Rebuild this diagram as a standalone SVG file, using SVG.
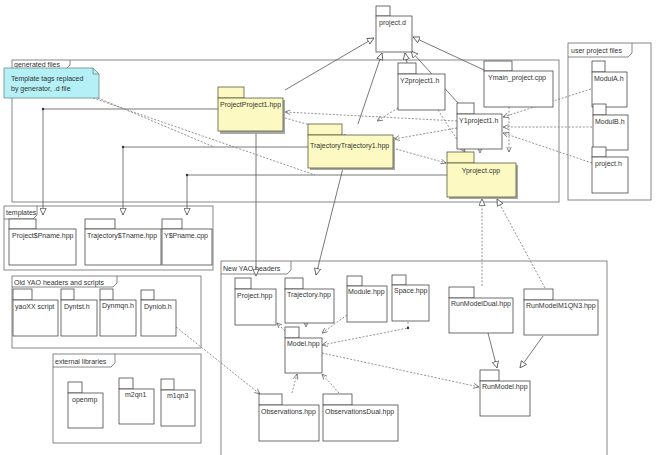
<svg xmlns="http://www.w3.org/2000/svg" width="663" height="455" viewBox="0 0 663 455">
<style>
text{font-family:"Liberation Sans",Arial,sans-serif;font-size:7px;fill:#333}
.frame{fill:none;stroke:#6a6a6a;stroke-width:0.8}
.pk{fill:#fff;stroke:#4a4a4a;stroke-width:0.8}
.yl{fill:#fcfac2;stroke:#5a5a40;stroke-width:0.8}
.sh{fill:#a8a8a8;stroke:none}
.s{fill:none;stroke:#555;stroke-width:0.8}
.d{fill:none;stroke:#777;stroke-width:0.8;stroke-dasharray:2,1.6}
.t{marker-end:url(#tri)}
.o{marker-end:url(#open)}
.dot{fill:#333}
.note{fill:#b4f0f6;stroke:#6a8a8e;stroke-width:0.8}
</style>
<defs>
<marker id="tri" viewBox="0 0 10 10" refX="10" refY="5" markerWidth="7" markerHeight="7" markerUnits="userSpaceOnUse" orient="auto">
<path d="M0.5,0.5 L10,5 L0.5,9.5 Z" fill="#fff" stroke="#555" stroke-width="1.2"/>
</marker>
<marker id="open" viewBox="0 0 10 10" refX="10" refY="5" markerWidth="5.5" markerHeight="5.5" markerUnits="userSpaceOnUse" orient="auto">
<path d="M0,0.5 L10,5 L0,9.5" fill="none" stroke="#666" stroke-width="1.4"/>
</marker>
</defs>
<rect width="663" height="455" fill="#fff"/>

<g id="frames">
<g id="frame-generated"><rect class="frame" x="12" y="60" width="547" height="142"/><polyline class="frame" points="12,69 66,69 70,65 70,60"/><text x="14" y="67">generated files</text></g>
<g id="frame-user"><rect class="frame" x="568" y="43" width="83" height="157"/><polyline class="frame" points="568,57 628,57 632,53 632,43"/><text x="571" y="53">user project files</text></g>
<g id="frame-templates"><rect class="frame" x="4" y="206" width="209" height="64"/><polyline class="frame" points="4,219 33,219 37,215 37,206"/><text x="6" y="215">templates</text></g>
<g id="frame-old"><rect class="frame" x="12" y="276" width="189" height="72"/><polyline class="frame" points="12,287 113,287 117,283 117,276"/><text x="14" y="285">Old YAO headers and scripts</text></g>
<g id="frame-ext"><rect class="frame" x="53" y="354" width="148" height="89"/><polyline class="frame" points="53,367 111,367 115,363 115,354"/><text x="55" y="364">external libraries</text></g>
<g id="frame-new"><rect class="frame" x="221" y="261" width="386" height="200"/><polyline class="frame" points="221,274 287,274 291,270 291,261"/><text x="223" y="271">New YAO headers</text></g>
</g>

<g id="connectors">
<line class="s t" x1="285" y1="90" x2="374" y2="38"/>
<line class="s t" x1="358" y1="124" x2="382" y2="53"/>
<line class="s t" x1="407" y1="63" x2="405" y2="53"/>
<line class="s t" x1="458" y1="103" x2="411" y2="51"/>
<line class="s t" x1="484" y1="70" x2="413" y2="37"/>
<path class="s t" d="M218,109 H43 V215"/>
<path class="s t" d="M308,147 H123 V215"/>
<path class="s t" d="M447,175 H187 V215"/>
<line class="s t" x1="256" y1="131" x2="256" y2="276"/>
<line class="s t" x1="343" y1="168" x2="316" y2="275"/>
<line class="s t" x1="488" y1="333" x2="497" y2="368"/>
<line class="s t" x1="543" y1="336" x2="520" y2="368"/>
<line class="d t" x1="482" y1="286" x2="482" y2="199"/>
<line class="d t" x1="545" y1="288" x2="497" y2="199"/>
<line class="d o" x1="457" y1="121" x2="285" y2="112"/>
<line class="d o" x1="457" y1="128" x2="394" y2="139"/>
<line class="d o" x1="285" y1="118" x2="446" y2="163"/>
<line class="d o" x1="398" y1="108" x2="377" y2="121"/>
<line class="d o" x1="438" y1="110" x2="465" y2="152"/>
<line class="d o" x1="509" y1="107" x2="509" y2="152"/>
<line class="d o" x1="480" y1="149" x2="480" y2="153"/>
<line class="d o" x1="591" y1="89" x2="503" y2="117"/>
<line class="d o" x1="592" y1="127" x2="503" y2="127"/>
<line class="d o" x1="592" y1="163" x2="503" y2="133"/>
<line class="d o" x1="176" y1="327" x2="260" y2="394"/>
<line class="d o" x1="285" y1="331" x2="277" y2="323"/>
<line class="d o" x1="306" y1="323" x2="306" y2="327"/>
<line class="d o" x1="347" y1="315" x2="322" y2="333"/>
<path class="d o" d="M408,322 V328 L322,345"/>
<line class="d o" x1="322" y1="353" x2="479" y2="387"/>
<line class="d o" x1="292" y1="393" x2="297" y2="374"/>
<line class="d o" x1="339" y1="393" x2="322" y2="374"/>
<line class="d" x1="93" y1="98" x2="315" y2="175"/>
<line class="d" x1="98" y1="98" x2="214" y2="147"/>
<circle class="dot" cx="43" cy="109" r="1.2"/>
<circle class="dot" cx="123" cy="147" r="1.2"/>
<circle class="dot" cx="187" cy="175" r="1.2"/>
<circle class="dot" cx="408" cy="328" r="1.2"/>
</g>

<g id="note"><path class="note" d="M4,68 H93 L99,74 V98 H4 Z"/><path d="M93,68 V74 H99" fill="none" stroke="#6a8a8e" stroke-width="0.8"/><text x="11" y="81">Template tags replaced</text><text x="11" y="91">by generator, .d file</text></g>

<g id="project-d"><rect class="pk" x="376" y="6" width="14" height="10"/><rect class="pk" x="376" y="16" width="36" height="36"/><text x="379" y="25">project.d</text></g>
<g id="Y2project1-h"><rect class="pk" x="398" y="63" width="18" height="11"/><rect class="pk" x="398" y="74" width="47" height="36"/><text x="400" y="83">Y2project1.h</text></g>
<g id="Ymain-project-cpp"><rect class="pk" x="484" y="61" width="28" height="10"/><rect class="pk" x="484" y="71" width="69" height="36"/><text x="488" y="80">Ymain_project.cpp</text></g>
<g id="Y1project1-h"><rect class="pk" x="457" y="103" width="17" height="11"/><rect class="pk" x="457" y="114" width="45" height="35"/><text x="459" y="123">Y1project1.h</text></g>
<g id="ProjectProject1-hpp"><rect class="sh" x="220" y="100" width="65" height="34"/><rect class="yl" x="218" y="87" width="26" height="11"/><rect class="yl" x="218" y="98" width="65" height="33"/><text x="220" y="107">ProjectProject1.hpp</text></g>
<g id="TrajectoryTrajectory1-hpp"><rect class="sh" x="310" y="137" width="85" height="33"/><rect class="yl" x="308" y="124" width="34" height="11"/><rect class="yl" x="308" y="135" width="85" height="33"/><text x="310" y="148">TrajectoryTrajectory1.hpp</text></g>
<g id="Yproject-cpp"><rect class="sh" x="449" y="165" width="69" height="34"/><rect class="yl" x="447" y="152" width="27" height="11"/><rect class="yl" x="447" y="163" width="69" height="34"/><text x="481" y="173" text-anchor="middle">Yproject.cpp</text></g>

<g id="ModulA-h"><rect class="pk" x="592" y="61" width="13" height="11"/><rect class="pk" x="592" y="72" width="35" height="35"/><text x="594" y="81">ModulA.h</text></g>
<g id="ModulB-h"><rect class="pk" x="593" y="104" width="13" height="11"/><rect class="pk" x="593" y="115" width="35" height="35"/><text x="595" y="124">ModulB.h</text></g>
<g id="project-h"><rect class="pk" x="592" y="147" width="14" height="10"/><rect class="pk" x="592" y="157" width="36" height="36"/><text x="595" y="166">project.h</text></g>

<g id="Project-Pname-hpp"><rect class="pk" x="9" y="219" width="27" height="10"/><rect class="pk" x="9" y="229" width="67" height="36"/><text x="12" y="238">Project$Pname.hpp</text></g>
<g id="Trajectory-Tname-hpp"><rect class="pk" x="85" y="219" width="30" height="10"/><rect class="pk" x="85" y="229" width="76" height="36"/><text x="87" y="238">Trajectory$Tname.hpp</text></g>
<g id="Y-Pname-cpp"><rect class="pk" x="162" y="219" width="20" height="10"/><rect class="pk" x="162" y="229" width="50" height="36"/><text x="164" y="238">Y$Pname.cpp</text></g>

<g id="yaoXX-script"><rect class="pk" x="13" y="289" width="19" height="11"/><rect class="pk" x="13" y="300" width="45" height="36"/><text x="15" y="309">yaoXX script</text></g>
<g id="Dyntst-h"><rect class="pk" x="61" y="289" width="13" height="11"/><rect class="pk" x="61" y="300" width="36" height="36"/><text x="64" y="309">Dyntst.h</text></g>
<g id="Dynmqn-h"><rect class="pk" x="100" y="289" width="13" height="11"/><rect class="pk" x="100" y="300" width="36" height="36"/><text x="102" y="308">Dynmqn.h</text></g>
<g id="Dyniob-h"><rect class="pk" x="141" y="290" width="13" height="10"/><rect class="pk" x="141" y="300" width="35" height="36"/><text x="144" y="309">Dyniob.h</text></g>

<g id="openmp"><rect class="pk" x="68" y="382" width="14" height="11"/><rect class="pk" x="68" y="393" width="35" height="35"/><text x="72" y="402">openmp</text></g>
<g id="m2qn1"><rect class="pk" x="119" y="378" width="14" height="11"/><rect class="pk" x="119" y="389" width="35" height="35"/><text x="125" y="397">m2qn1</text></g>
<g id="m1qn3"><rect class="pk" x="161" y="379" width="13" height="11"/><rect class="pk" x="161" y="390" width="34" height="36"/><text x="167" y="398">m1qn3</text></g>

<g id="Project-hpp"><rect class="pk" x="235" y="278" width="16" height="11"/><rect class="pk" x="235" y="289" width="41" height="36"/><text x="237" y="298">Project.hpp</text></g>
<g id="Trajectory-hpp"><rect class="pk" x="285" y="278" width="18" height="11"/><rect class="pk" x="285" y="289" width="49" height="34"/><text x="287" y="297">Trajectory.hpp</text></g>
<g id="Module-hpp"><rect class="pk" x="347" y="276" width="15" height="10"/><rect class="pk" x="347" y="286" width="40" height="36"/><text x="348" y="294">Module.hpp</text></g>
<g id="Space-hpp"><rect class="pk" x="392" y="275" width="14" height="10"/><rect class="pk" x="392" y="285" width="37" height="36"/><text x="394" y="293">Space.hpp</text></g>
<g id="Model-hpp"><rect class="pk" x="285" y="327" width="14" height="11"/><rect class="pk" x="285" y="338" width="37" height="35"/><text x="287" y="346">Model.hpp</text></g>
<g id="Observations-hpp"><rect class="pk" x="259" y="394" width="23" height="11"/><rect class="pk" x="259" y="405" width="60" height="36"/><text x="261" y="414">Observations.hpp</text></g>
<g id="ObservationsDual-hpp"><rect class="pk" x="323" y="394" width="29" height="11"/><rect class="pk" x="323" y="405" width="75" height="36"/><text x="325" y="414">ObservationsDual.hpp</text></g>
<g id="RunModelDual-hpp"><rect class="pk" x="449" y="287" width="25" height="11"/><rect class="pk" x="449" y="298" width="64" height="35"/><text x="451" y="306">RunModelDual.hpp</text></g>
<g id="RunModelM1QN3-hpp"><rect class="pk" x="524" y="289" width="29" height="11"/><rect class="pk" x="524" y="300" width="74" height="35"/><text x="526" y="308">RunModelM1QN3.hpp</text></g>
<g id="RunModel-hpp"><rect class="pk" x="480" y="370" width="19" height="11"/><rect class="pk" x="480" y="381" width="50" height="35"/><text x="482" y="389">RunModel.hpp</text></g>
</svg>
